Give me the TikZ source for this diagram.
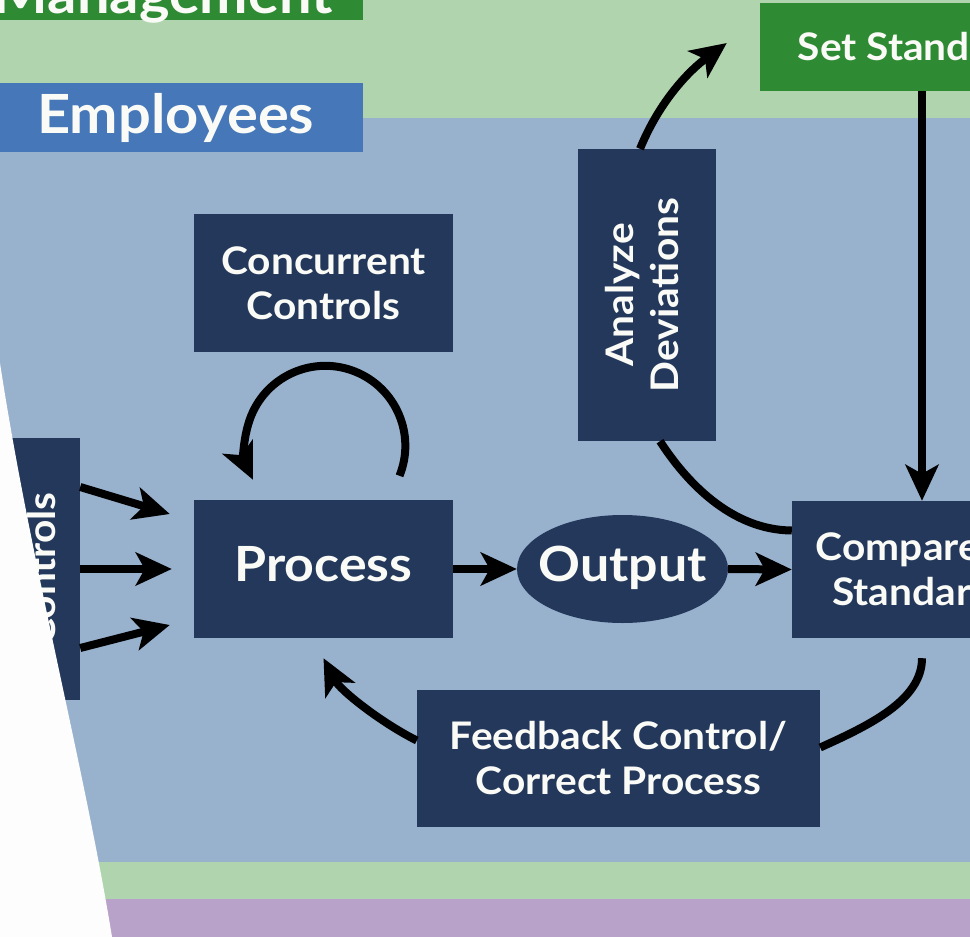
\documentclass[tikz,border=0pt]{standalone}
\usepackage{fontspec}
\setmainfont{Lato}[FakeStretch=1.07]
\usetikzlibrary{arrows.meta,calc,shapes.geometric}
\definecolor{lgreen}{HTML}{B0D5AE}
\definecolor{bband}{HTML}{98B2CE}
\definecolor{navy}{HTML}{23385A}
\definecolor{dgreen}{HTML}{2F8A34}
\definecolor{empblue}{HTML}{4677B8}
\definecolor{purp}{HTML}{B8A2C9}
\definecolor{paper}{HTML}{FDFDFD}
\definecolor{txt}{HTML}{FAFBF7}
\begin{document}
\begin{tikzpicture}[x=1pt,y=-1pt,
  box/.style={fill=navy, draw=none, inner sep=0pt, text=txt, align=center,
    font=\bfseries\fontsize{38}{45}\selectfont},
  big/.style={font=\bfseries\fontsize{48.5}{56}\selectfont, text depth=10pt},
  lbl/.style={inner sep=0pt, text=txt, font=\bfseries\fontsize{54}{60}\selectfont},
  arr/.style={line width=8pt, -{Stealth[length=36pt,width=33pt,inset=9pt]}},
  con/.style={line width=8pt}]
\useasboundingbox (0,0) rectangle (970,937);
\begin{scope}
\clip (0,0) rectangle (970,937);
% bands
\fill[lgreen] (0,0) rectangle (970,118);
\fill[bband] (0,118) rectangle (970,862);
\fill[lgreen] (0,862) rectangle (970,899);
\fill[purp] (0,899) rectangle (970,937);
% swim-lane labels
\node[fill=dgreen, inner sep=0pt, minimum width=363pt, minimum height=60pt, anchor=south west] (mgmt) at (0,20) {};
\node[lbl, anchor=base east] (mgmttext) at (333,13) {Management};
\node[fill=empblue, inner sep=0pt, minimum width=363pt, minimum height=69pt, anchor=north west] (emp) at (0,83) {};
\node[lbl, anchor=base west] (emptext) at (37,133) {Employees};
% boxes
\node[box, fill=dgreen, minimum width=324pt, minimum height=88pt] (setstd) at (922,47) {Set Standards};
\node[box, minimum width=259pt, minimum height=138pt] (conc) at (323.5,283) {Concurrent\\Controls};
\node[box, big, minimum width=259pt, minimum height=138pt] (process) at (323.5,569) {Process};
\node[box, big, ellipse, minimum width=211pt, minimum height=108pt] (output) at (622.5,569) {\makebox[0pt]{Output}};
\node[box, minimum width=260pt, minimum height=137pt] (compare) at (922,569.5) {Compare to\\Standards};
\node[box, minimum width=138pt, minimum height=292pt] (analyze) at (647,295)
  {\rotatebox{90}{\begin{tabular}{@{}c@{}}Analyze\\Deviations\end{tabular}}};
\node[box, minimum width=403pt, minimum height=137pt] (feedback) at (618.5,758.5) {Feedback Control/\\Correct Process};
\node[box, minimum width=138pt, minimum height=262pt] (ctrl) at (11,569)
  {\hspace*{62pt}\rotatebox{90}{Controls}};
% connectors
\draw[arr] (setstd.south) -- (compare.north);
\draw[arr] (process.east) -- (output.west);
\draw[arr] (output.east) -- (compare.west);
\draw[arr] ($(ctrl.east)+(0,-82)$) -- ($(process.west)+(-24,-55)$);
\draw[arr] (ctrl.east) -- ($(process.west)+(-22,0)$);
\draw[arr] ($(ctrl.east)+(0,79)$) -- ($(process.west)+(-24,56)$);
\draw[arr] ($(process.north)+(76,-24)$) arc[start angle=22, end angle=-205, radius=80];
\draw[con] ($(compare.west)+(0,-39)$) .. controls (730,530) and (685,480) .. ($(analyze.south)+(13,0)$);
\draw[arr] ($(analyze.north)+(-7,0)$) .. controls (660,100) and (690,70) .. ($(setstd.west)+(-33,-4)$);
\draw[con] ($(compare.south)+(0,20)$) .. controls (922,700) and (870,725) .. ($(feedback.east)+(0,-11)$);
\draw[arr] ($(feedback.west)+(0,-18)$) .. controls (380,722) and (340,690) .. ($(process.south)+(0,20)$);
% white page edge
\fill[paper] (0,363) .. controls (30,560) and (85,770) .. (112,937) -- (0,937) -- cycle;
\end{scope}
\end{tikzpicture}
\end{document}
